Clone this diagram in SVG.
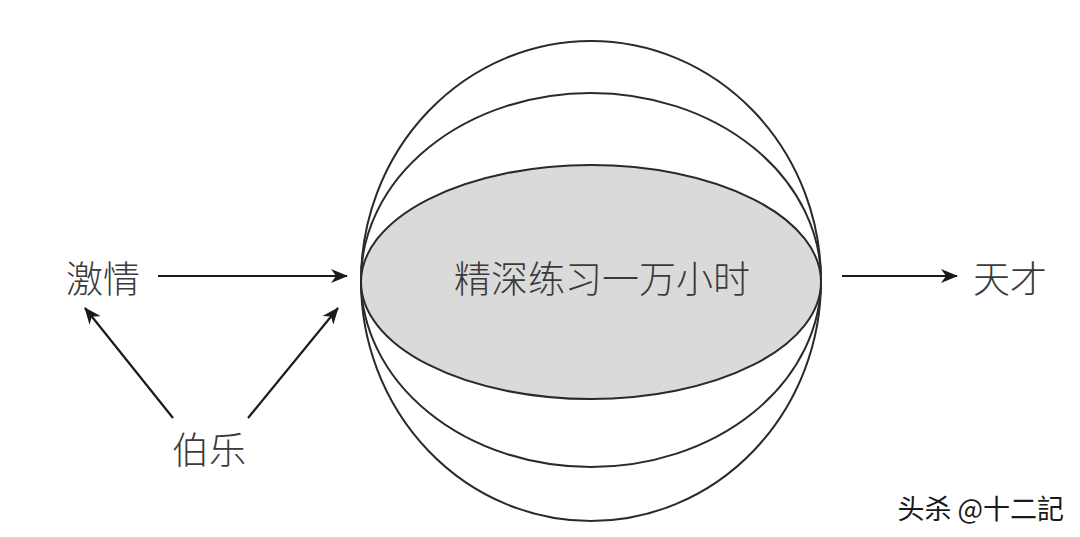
<svg xmlns="http://www.w3.org/2000/svg" width="1080" height="537" viewBox="0 0 1080 537">
<style>
.lbl{font-family:"Noto Sans CJK SC","Noto Sans",sans-serif;font-size:37px;fill:#3a3a3a;text-anchor:middle;dominant-baseline:central;font-weight:300}
.ell{fill:none;stroke:#2a2a2a;stroke-width:2}
.con{stroke:#1a1a1a;stroke-width:2.2;fill:none;marker-end:url(#ah)}
.wm{font-family:"Noto Sans CJK SC","Noto Sans",sans-serif;font-size:27px;fill:#1a1a1a;text-anchor:end;dominant-baseline:central;font-weight:400}
</style>
<defs>
<marker id="ah" viewBox="0 0 17 14" refX="16" refY="7" markerWidth="17" markerHeight="14" markerUnits="userSpaceOnUse" orient="auto">
<path d="M0,0 L17,7 L0,14 L5,7 Z" fill="#1a1a1a"/>
</marker>
</defs>
<rect width="1080" height="537" fill="#fff"/>
<g id="sphere">
<ellipse class="ell" cx="591" cy="281" rx="230" ry="240"/>
<ellipse class="ell" cx="591" cy="280" rx="230" ry="187"/>
<ellipse cx="591" cy="282" rx="230" ry="117" fill="#dadada" stroke="#2a2a2a" stroke-width="2"/>
<text class="lbl" x="602" y="277">精深练习一万小时</text>
</g>
<g id="passion"><text class="lbl" x="103" y="277">激情</text></g>
<g id="bole"><text class="lbl" x="209" y="448">伯乐</text></g>
<g id="genius"><text class="lbl" x="1010" y="277">天才</text></g>
<g id="connectors">
<line class="con" x1="158" y1="276" x2="347" y2="276"/>
<line class="con" x1="173" y1="418" x2="85" y2="308"/>
<line class="con" x1="248" y1="418" x2="338" y2="308"/>
<line class="con" x1="842" y1="276" x2="957" y2="276"/>
</g>
<text class="wm" x="1064" y="507">头杀 @十二記</text>
</svg>
